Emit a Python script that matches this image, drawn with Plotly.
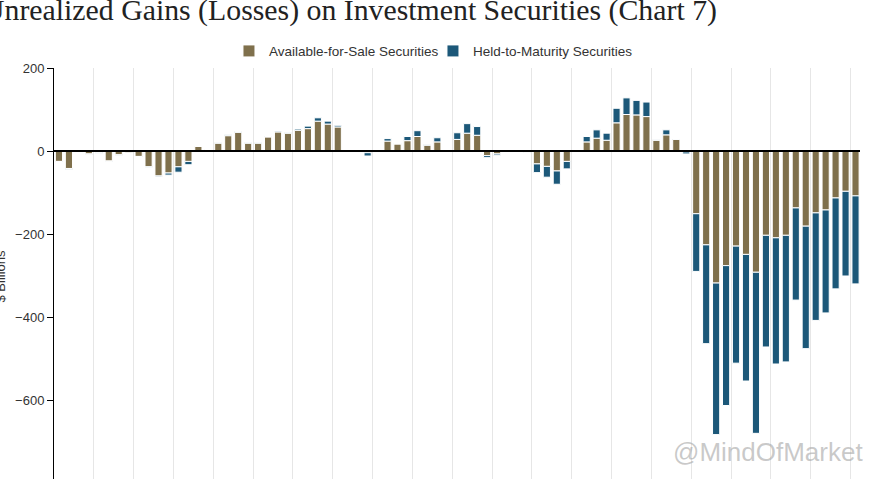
import plotly.graph_objects as go

# Quarterly categories 2006Q1 .. 2026Q1
years = list(range(2006, 2027))
quarters = [f"{q}Q{str(y)[2:]}" for y in years for q in (1, 2, 3, 4)][:81]

afs = [-25, -42, -2, -7, -4, -24, -9, -4, -13, -38, -60, -53, -38, -25,
       11, 3, 19, 37, 45, 19, 19, 34, 46, 43, 50, 54, 72, 65, 58, 2,
       1, -4, 0, 24, 17, 25, 35, 14, 22, 2, 28, 43, 38, -11, -7, 0,
       1, -3, -31, -37, -48, -25, 0, 22, 31, 26, 68, 88, 87, 83, 26,
       39, 28, -2, -151, -226, -318, -276, -229, -249, -292, -203, -209, -203,
       -137, -181, -149, -142, -113, -97, -108]

htm = [-1, -2, 0, -1, -1, -1, -1, 0, -1, -1, -2, -5, -13, -8,
       0, 0, 1, 2, 2, 1, 1, 1, 2, 1, 3, 6, 8, 7, 4, 0,
       0, -8, 0, 6, 1, 10, 14, 2, 10, 0, 16, 23, 21, -5, -3, 0,
       0, -1, -21, -26, -32, -18, 0, 13, 20, 17, 35, 40, 35, 35, 1,
       12, 1, -5, -139, -238, -365, -337, -282, -305, -388, -269, -304, -305,
       -222, -295, -259, -248, -219, -204, -212]

year_starts = [q for q in quarters if q.startswith("1Q")]
y_ticks = [200, 0, -200, -400, -600, -800]

AFS_COLOR = "#7f704c"
HTM_COLOR = "#1c5879"

fig = go.Figure()
fig.add_trace(go.Bar(x=quarters, y=afs, name="Available-for-Sale Securities",
                     marker=dict(color=AFS_COLOR, line=dict(color="white", width=1))))
fig.add_trace(go.Bar(x=quarters, y=htm, name="Held-to-Maturity Securities",
                     marker=dict(color=HTM_COLOR, line=dict(color="white", width=1))))

fig.update_layout(
    width=873, height=479,
    margin=dict(l=54, r=13, t=68, b=0, autoexpand=False),
    barmode="relative",
    bargap=0.28,
    plot_bgcolor="white", paper_bgcolor="white",
    font=dict(family="Liberation Sans, Arial, sans-serif", size=13, color="#333"),
    legend=dict(orientation="h", x=0.4702, xanchor="center", y=1.041, yanchor="middle",
                font=dict(size=13.5, color="#333"), itemwidth=30, entrywidth=159,
                traceorder="normal"),
    xaxis=dict(type="category", tickmode="array", tickvals=year_starts,
               tickson="boundaries", showticklabels=False, ticks="",
               showgrid=True, gridcolor="#e6e6e6", gridwidth=1,
               range=[-0.5, 80.45], showline=False),
    yaxis=dict(range=[-790, 200], tickmode="array", tickvals=y_ticks,
               ticks="outside", ticklen=6, tickcolor="black", tickwidth=1,
               showline=True, linecolor="black", linewidth=1,
               showgrid=False, zeroline=False,
               tickfont=dict(size=13, color="#333")),
    shapes=[dict(type="line", xref="paper", yref="y", x0=0, x1=1, y0=0, y1=0,
                 line=dict(color="black", width=2), layer="above")],
    annotations=[
        dict(text="Unrealized Gains (Losses) on Investment Securities (Chart 7)",
             xref="paper", yref="paper", x=0, y=1, xanchor="left", yanchor="middle",
             xshift=-73, yshift=58, showarrow=False,
             font=dict(family="Liberation Serif, Times New Roman, serif", size=29.8, color="#222")),
        dict(text="$ Billions", xref="paper", yref="paper", x=0, y=0.5,
             xanchor="center", yanchor="middle", xshift=-54, yshift=-3, textangle=-90,
             showarrow=False, font=dict(size=13, color="#333")),
        dict(text="@MindOfMarket", xref="paper", yref="paper", x=1, y=0,
             xanchor="right", yanchor="middle", xshift=5, yshift=27, showarrow=False,
             font=dict(family="Liberation Sans, Arial, sans-serif", size=26,
                       color="rgba(165,165,165,0.6)")),
    ],
)

fig.write_html("out.html",
               config={"displayModeBar": False},
               post_script="document.body.style.margin='0';document.body.style.overflow='hidden';")
